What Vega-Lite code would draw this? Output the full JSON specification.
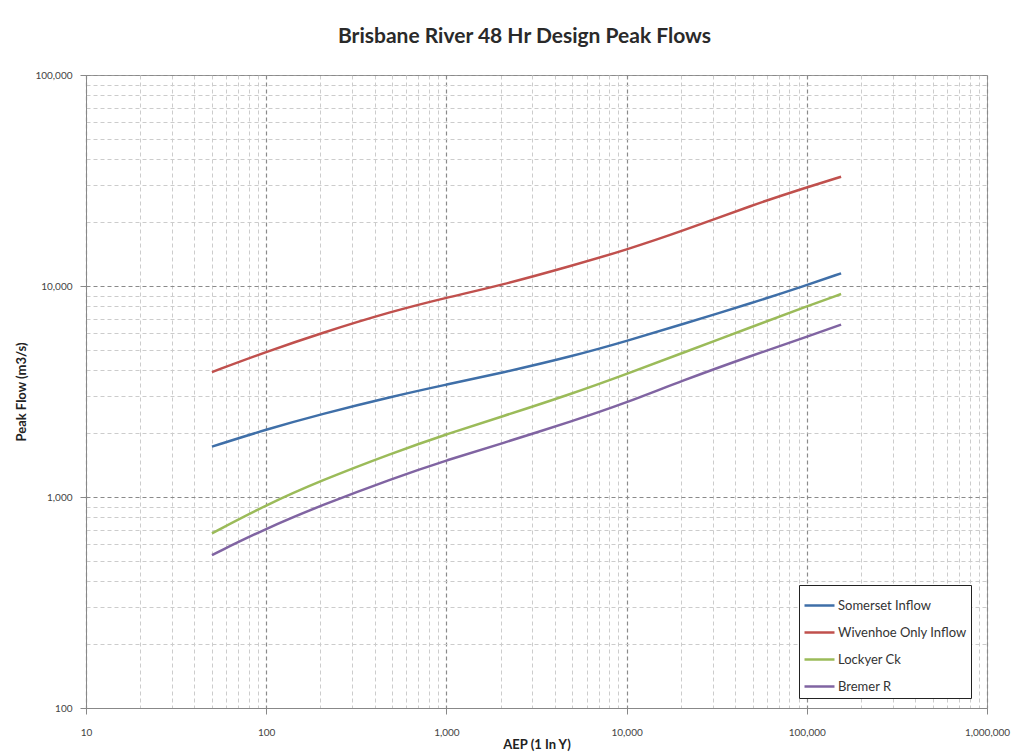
{
  "$schema": "https://vega.github.io/schema/vega-lite/v6.json",
  "width": 901,
  "height": 633,
  "autosize": {"type": "none"},
  "padding": {"left": 86, "top": 75, "right": 44, "bottom": 47},
  "background": "white",
  "title": {
    "text": "Brisbane River 48 Hr Design Peak Flows",
    "font": "Lato",
    "fontSize": 21,
    "fontWeight": "bold",
    "color": "#2a2a2a",
    "anchor": "middle",
    "dx": -12,
    "offset": 23
  },
  "config": {
    "view": {"stroke": "#999999", "strokeWidth": 1},
    "font": "Lato"
  },
  "data": {
    "values": [
      {"series": "Somerset Inflow", "aep": 50, "flow": 1732},
      {"series": "Somerset Inflow", "aep": 100, "flow": 2089},
      {"series": "Somerset Inflow", "aep": 200, "flow": 2466},
      {"series": "Somerset Inflow", "aep": 500, "flow": 2992},
      {"series": "Somerset Inflow", "aep": 1000, "flow": 3412},
      {"series": "Somerset Inflow", "aep": 2000, "flow": 3864},
      {"series": "Somerset Inflow", "aep": 5000, "flow": 4645},
      {"series": "Somerset Inflow", "aep": 10000, "flow": 5483},
      {"series": "Somerset Inflow", "aep": 20000, "flow": 6561},
      {"series": "Somerset Inflow", "aep": 50000, "flow": 8318},
      {"series": "Somerset Inflow", "aep": 100000, "flow": 10093},
      {"series": "Somerset Inflow", "aep": 155000, "flow": 11482},
      {"series": "Wivenhoe Only Inflow", "aep": 50, "flow": 3910},
      {"series": "Wivenhoe Only Inflow", "aep": 100, "flow": 4875},
      {"series": "Wivenhoe Only Inflow", "aep": 200, "flow": 5970},
      {"series": "Wivenhoe Only Inflow", "aep": 500, "flow": 7590},
      {"series": "Wivenhoe Only Inflow", "aep": 1000, "flow": 8810},
      {"series": "Wivenhoe Only Inflow", "aep": 2000, "flow": 10070},
      {"series": "Wivenhoe Only Inflow", "aep": 5000, "flow": 12500},
      {"series": "Wivenhoe Only Inflow", "aep": 10000, "flow": 14860},
      {"series": "Wivenhoe Only Inflow", "aep": 20000, "flow": 18110},
      {"series": "Wivenhoe Only Inflow", "aep": 50000, "flow": 24210},
      {"series": "Wivenhoe Only Inflow", "aep": 100000, "flow": 29380},
      {"series": "Wivenhoe Only Inflow", "aep": 155000, "flow": 32960},
      {"series": "Lockyer Ck", "aep": 50, "flow": 673},
      {"series": "Lockyer Ck", "aep": 100, "flow": 918},
      {"series": "Lockyer Ck", "aep": 200, "flow": 1194},
      {"series": "Lockyer Ck", "aep": 500, "flow": 1614},
      {"series": "Lockyer Ck", "aep": 1000, "flow": 1986},
      {"series": "Lockyer Ck", "aep": 2000, "flow": 2393},
      {"series": "Lockyer Ck", "aep": 5000, "flow": 3090},
      {"series": "Lockyer Ck", "aep": 10000, "flow": 3828},
      {"series": "Lockyer Ck", "aep": 20000, "flow": 4786},
      {"series": "Lockyer Ck", "aep": 50000, "flow": 6412},
      {"series": "Lockyer Ck", "aep": 100000, "flow": 8017},
      {"series": "Lockyer Ck", "aep": 155000, "flow": 9162},
      {"series": "Bremer R", "aep": 50, "flow": 531},
      {"series": "Bremer R", "aep": 100, "flow": 710},
      {"series": "Bremer R", "aep": 200, "flow": 910},
      {"series": "Bremer R", "aep": 500, "flow": 1222},
      {"series": "Bremer R", "aep": 1000, "flow": 1493},
      {"series": "Bremer R", "aep": 2000, "flow": 1786},
      {"series": "Bremer R", "aep": 5000, "flow": 2286},
      {"series": "Bremer R", "aep": 10000, "flow": 2799},
      {"series": "Bremer R", "aep": 20000, "flow": 3540},
      {"series": "Bremer R", "aep": 50000, "flow": 4699},
      {"series": "Bremer R", "aep": 100000, "flow": 5741},
      {"series": "Bremer R", "aep": 155000, "flow": 6561}
    ]
  },
  "mark": {"type": "line", "interpolate": "basis", "strokeWidth": 2.5},
  "encoding": {
    "x": {
      "field": "aep",
      "type": "quantitative",
      "scale": {"type": "log", "domain": [10, 1000000], "nice": false},
      "axis": {
        "title": "AEP (1 In Y)",
        "titleFont": "Lato",
        "titleFontSize": 13,
        "titleFontWeight": "bold",
        "titleColor": "#222222",
        "titleY": 30,
        "values": [10,20,30,40,50,60,70,80,90,100,200,300,400,500,600,700,800,900,1000,2000,3000,4000,5000,6000,7000,8000,9000,10000,20000,30000,40000,50000,60000,70000,80000,90000,100000,200000,300000,400000,500000,600000,700000,800000,900000,1000000],
        "format": ",",
        "labelExpr": "indexof([10,100,1000,10000,100000,1000000], datum.value) >= 0 ? datum.label : ''",
        "labelFont": "Lato",
        "labelFontSize": 10,
        "labelColor": "#444444",
        "labelPadding": 13,
        "labelOverlap": false,
        "labelFlush": false,
        "tickSize": 6,
        "tickColor": "#888888",
        "tickOpacity": {"condition": {"test": "indexof([10,100,1000,10000,100000,1000000], datum.value) >= 0", "value": 1}, "value": 0},
        "domainColor": "#888888",
        "grid": true,
        "gridDash": [4, 3],
        "gridColor": {"condition": {"test": "indexof([10,100,1000,10000,100000,1000000], datum.value) >= 0", "value": "#8a8a8a"}, "value": "#cccccc"},
        "gridWidth": {"condition": {"test": "indexof([10,100,1000,10000,100000,1000000], datum.value) >= 0", "value": 1.2}, "value": 1}
      }
    },
    "y": {
      "field": "flow",
      "type": "quantitative",
      "scale": {"type": "log", "domain": [100, 100000], "nice": false},
      "axis": {
        "title": "Peak Flow (m3/s)",
        "titleFont": "Lato",
        "titleFontSize": 13,
        "titleFontWeight": "bold",
        "titleColor": "#222222",
        "titleX": -58,
        "values": [100,200,300,400,500,600,700,800,900,1000,2000,3000,4000,5000,6000,7000,8000,9000,10000,20000,30000,40000,50000,60000,70000,80000,90000,100000],
        "format": ",",
        "labelExpr": "indexof([100,1000,10000,100000], datum.value) >= 0 ? datum.label : ''",
        "labelFont": "Lato",
        "labelFontSize": 10,
        "labelColor": "#444444",
        "labelPadding": 8,
        "labelOverlap": false,
        "labelFlush": false,
        "tickSize": 6,
        "tickColor": "#888888",
        "tickOpacity": {"condition": {"test": "indexof([100,1000,10000,100000], datum.value) >= 0", "value": 1}, "value": 0},
        "domainColor": "#888888",
        "grid": true,
        "gridDash": [4, 3],
        "gridColor": {"condition": {"test": "indexof([100,1000,10000,100000], datum.value) >= 0", "value": "#8a8a8a"}, "value": "#cccccc"},
        "gridWidth": {"condition": {"test": "indexof([100,1000,10000,100000], datum.value) >= 0", "value": 1.2}, "value": 1}
      }
    },
    "color": {
      "field": "series",
      "type": "nominal",
      "sort": ["Somerset Inflow", "Wivenhoe Only Inflow", "Lockyer Ck", "Bremer R"],
      "scale": {
        "domain": ["Somerset Inflow", "Wivenhoe Only Inflow", "Lockyer Ck", "Bremer R"],
        "range": ["#3f6fa8", "#c0504d", "#9bbb59", "#8064a2"]
      },
      "legend": {
        "title": null,
        "orient": "none",
        "legendX": 713,
        "legendY": 510,
        "direction": "vertical",
        "symbolType": "stroke",
        "symbolSize": 900,
        "symbolStrokeWidth": 2.5,
        "labelFont": "Lato",
        "labelFontSize": 13,
        "labelColor": "#333333",
        "labelOffset": 2,
        "labelExpr": "datum.label + '\u00a0\u00a0\u00a0\u00a0\u00a0'",
        "rowPadding": 3,
        "padding": 4,
        "strokeColor": "#222222",
        "fillColor": "white"
      }
    }
  }
}
